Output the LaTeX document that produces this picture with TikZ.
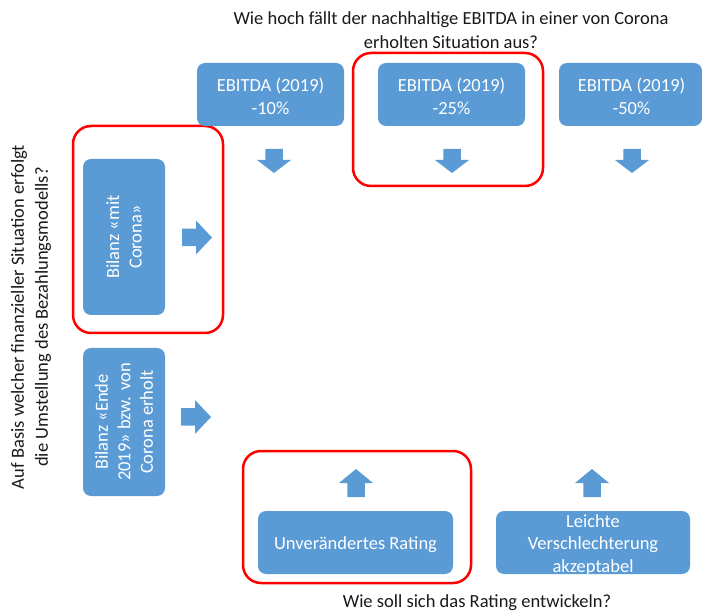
\documentclass[tikz,border=0pt]{standalone}
\usepackage{fontspec}
\setmainfont{Carlito}
\definecolor{boxblue}{HTML}{5B9BD5}
\definecolor{redline}{HTML}{FF0000}
\tikzset{
  bluebox/.style={fill=boxblue, draw=none, rounded corners=8pt, text=white, align=center, inner sep=0pt,
    font=\fontsize{18.5}{22.5}\selectfont},
  boxtext/.style={text=white, align=center, inner sep=0pt, font=\fontsize{18.5}{22.5}\selectfont},
  redframe/.style={draw=redline, line width=2.5pt, rounded corners=18pt, fill=none, inner sep=0pt},
  question/.style={text=black!90, align=center, inner sep=0pt, font=\fontsize{18.5}{24}\selectfont},
  fatarrow/.style={fill=boxblue, draw=none}
}
% #1 start point, #2 rotation, #3 shaft length, #4 total length
\newcommand{\fatarr}[4]{\fill[fatarrow, shift={#1}, rotate=#2] (0,-8.75) -- (#3,-8.75) -- (#3,-17) -- (#4,0) -- (#3,17) -- (#3,8.75) -- (0,8.75) -- cycle;}
\begin{document}
\begin{tikzpicture}[x=1pt,y=-1pt]
\useasboundingbox (0,0) rectangle (702,612);
% questions
\node[question] (qtop) at (451,30) {Wie hoch fällt der nachhaltige EBITDA in einer von Corona\\erholten Situation aus?};
\node[question, rotate=90] (qleft) at (31,317) {Auf Basis welcher finanzieller Situation erfolgt\\die Umstellung des Bezahlungsmodells?};
\node[question] (qbot) at (477,603) {Wie soll sich das Rating entwickeln?};
% red frames
\node[redframe, minimum width=190pt, minimum height=133pt] (r1) at (448,119.5) {};
\node[redframe, minimum width=150pt, minimum height=207pt] (r2) at (148,229.5) {};
\node[redframe, minimum width=228pt, minimum height=132pt] (r3) at (357,517) {};
% top boxes
\node[bluebox, minimum width=147pt, minimum height=63pt] (e1) at (270.5,94.5) {};
\node[boxtext] (e1t) at ([yshift=-2pt]e1.center) {EBITDA (2019)\\-10\%};
\node[bluebox, minimum width=147pt, minimum height=63pt] (e2) at (451.5,94.5) {};
\node[boxtext] (e2t) at ([yshift=-2pt]e2.center) {EBITDA (2019)\\-25\%};
\node[bluebox, minimum width=143pt, minimum height=63pt] (e3) at (630.5,94.5) {};
\node[boxtext] (e3t) at ([xshift=1pt,yshift=-2pt]e3.center) {EBITDA (2019)\\-50\%};
% down arrows
\fatarr{(274,149)}{-90}{11}{24}
\fatarr{(452,149)}{-90}{11}{24}
\fatarr{(632,149)}{-90}{11}{24}
% left boxes
\node[bluebox, minimum width=156pt, minimum height=82pt, rotate=90] (b1) at (124,237) {Bilanz «mit\\Corona»};
\node[bluebox, minimum width=148pt, minimum height=82pt, rotate=90] (b2) at (124,422) {Bilanz «Ende\\2019» bzw. von\\Corona erholt};
% right arrows
\fatarr{(182,237.5)}{0}{14}{30}
\fatarr{(181,417)}{0}{14}{30}
% bottom boxes
\node[bluebox, minimum width=195pt, minimum height=63pt] (u1) at (355.5,542.5) {};
\node[boxtext] (u1t) at ([yshift=-2pt]u1.center) {Unverändertes Rating};
\node[bluebox, minimum width=194pt, minimum height=63pt] (u2) at (593,542.5) {};
\node[boxtext] (u2t) at ([yshift=-2.5pt]u2.center) {Leichte\\Verschlechterung\\akzeptabel};
% up arrows
\fatarr{(356,497)}{90}{14}{28}
\fatarr{(592,497)}{90}{14}{28}
\end{tikzpicture}
\end{document}
